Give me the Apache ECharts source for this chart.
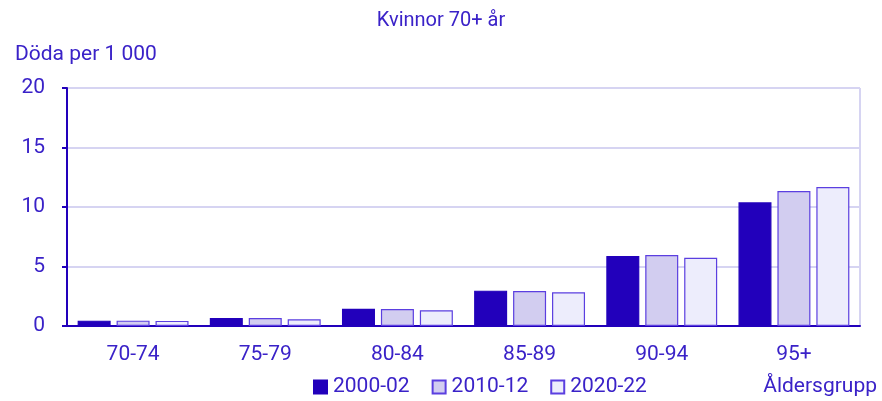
<!DOCTYPE html>
<html>
<head>
<meta charset="utf-8">
<script src="https://cdn.jsdelivr.net/npm/echarts@6/dist/echarts.min.js"></script>
<style>
  html, body { margin: 0; padding: 0; background: #fff; }
  #main { width: 882px; height: 401px; }
</style>
</head>
<body>
<div id="main"></div>
<script>
const ageGroups = ["70-74", "75-79", "80-84", "85-89", "90-94", "95+"];
const years = ["2000-02", "2010-12", "2020-22"];
const v2000 = [0.45, 0.67, 1.45, 2.97, 5.88, 10.39];
const v2010 = [0.45, 0.67, 1.43, 2.94, 5.97, 11.34];
const v2020 = [0.43, 0.56, 1.32, 2.83, 5.74, 11.68];
const yTicks = [0, 5, 10, 15, 20];

const textColor = "#3a22c8";
const fills = ["#2200bb", "#d2cdf0", "#ededfc"];
const borders = ["#2200bb", "#5b3fe0", "#5b3fe0"];
const font = "Roboto";
const fs = 21;

const chart = echarts.init(document.getElementById("main"));

const series = [v2000, v2010, v2020].map(function (vals, i) {
  return {
    name: years[i],
    type: "bar",
    data: vals,
    barWidth: 33,
    barGap: "18%",
    itemStyle: { color: fills[i], borderColor: borders[i], borderWidth: 1.2 },
  };
});

function txt(size) {
  return { fontFamily: font, fontSize: size, fontWeight: "normal", color: textColor, lineHeight: 24 };
}

chart.setOption({
  animation: false,
  textStyle: { fontFamily: font, color: textColor },
  title: [
    { text: "Kvinnor 70+ år", left: "center", top: 9, padding: 0, textStyle: txt(20) },
    { text: "Döda per 1 000", left: 15, top: 43, padding: 0, textStyle: txt(fs) },
    { text: "Åldersgrupp", right: 5, top: 375, padding: 0, textStyle: txt(fs) },
  ],
  legend: {
    data: years,
    left: 313,
    top: 375,
    padding: 0,
    itemWidth: 13,
    itemHeight: 13,
    itemGap: 22,
    icon: "rect",
    textStyle: Object.assign(txt(fs), { padding: [0, 0, 0, 1] }),
  },
  grid: { left: 67, right: 22, top: 88, bottom: 75, containLabel: false },
  xAxis: {
    type: "category",
    data: ageGroups,
    axisLine: { lineStyle: { color: "#2200bb", width: 2 } },
    axisTick: { lineStyle: { color: "#2200bb", width: 2 }, length: 6 },
    axisLabel: Object.assign(txt(fs), { margin: 17 }),
  },
  yAxis: {
    type: "value",
    min: 0,
    max: 20,
    interval: 5,
    axisLine: { show: true, lineStyle: { color: "#2200bb", width: 2 } },
    axisTick: { show: true, length: 5, lineStyle: { color: "#2200bb", width: 2 } },
    splitLine: { lineStyle: { color: "#d6d4f2", width: 2 } },
    axisLabel: Object.assign(txt(fs), {
      margin: 22,
      formatter: function (v) { return yTicks.indexOf(v) >= 0 ? String(v) : ""; },
    }),
  },
  graphic: [
    { type: "line", shape: { x1: 860, y1: 88, x2: 860, y2: 326 }, style: { stroke: "#d6d4f2", lineWidth: 2 } },
  ],
  series: series,
});
</script>
</body>
</html>
